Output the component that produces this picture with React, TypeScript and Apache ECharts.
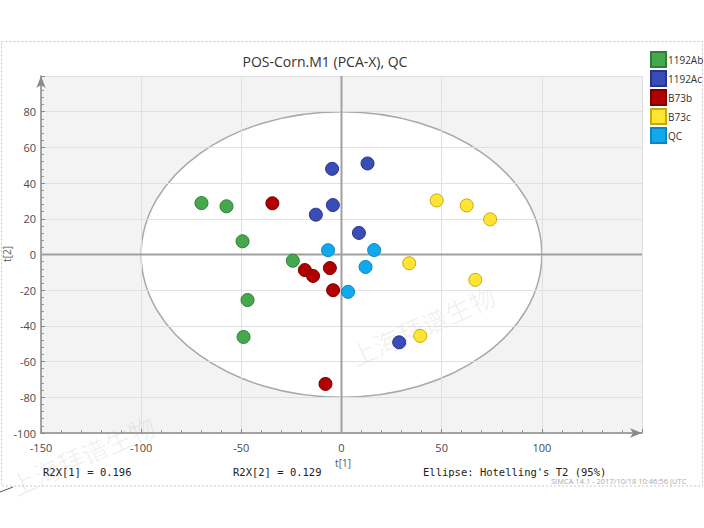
import React, { useEffect, useRef } from "react";
import * as echarts from "echarts";

// ---------- data ----------
const groups = ["1192Ab", "1192Ac", "B73b", "B73c", "QC"];
const groupColors = ["#45a84d", "#3a4cb8", "#b00000", "#ffe433", "#10a9ee"];
const groupBorders = ["#2f7d36", "#26348a", "#7a0000", "#c4aa10", "#0a86c0"];

const ab_t1 = [-69.9, -57.4, -49.4, -24.3, -46.9, -48.9];
const ab_t2 = [28.8, 27.0, 7.4, -3.5, -25.5, -46.2];
const ac_t1 = [-4.7, -4.3, -12.8, 13.0, 8.7, 28.8];
const ac_t2 = [48.0, 27.7, 22.3, 51.0, 12.1, -49.2];
const b73b_t1 = [-34.5, -18.3, -14.2, -5.8, -4.2, -8.0];
const b73b_t2 = [28.7, -8.7, -12.0, -7.6, -20.0, -72.5];
const b73c_t1 = [47.5, 62.5, 74.2, 33.8, 66.8, 39.3];
const b73c_t2 = [30.3, 27.5, 19.7, -4.9, -14.2, -45.6];
const qc_t1 = [-6.7, 16.3, 12.0, 3.3];
const qc_t2 = [2.4, 2.5, -7.0, -20.9];

const groupT1 = [ab_t1, ac_t1, b73b_t1, b73c_t1, qc_t1];
const groupT2 = [ab_t2, ac_t2, b73b_t2, b73c_t2, qc_t2];

// Hotelling's T2 (95%) ellipse semi-axes
const ellipseT1 = 100;
const ellipseT2 = 80;

const xMin = -150;
const xMax = 150;
const xStep = 50;
const yMin = -100;
const yMax = 100;
const yStep = 20;

const titleText = "POS-Corn.M1 (PCA-X), QC";
const r2x1Text = "R2X[1] = 0.196";
const r2x2Text = "R2X[2] = 0.129";
const ellipseText = "Ellipse: Hotelling's T2 (95%)";
const simcaText = "SIMCA 14.1 - 2017/10/18 10:46:56 (UTC";
const watermark = "上海拜谱生物";

export default function App() {
  const ref = useRef<HTMLDivElement>(null);

  useEffect(() => {
    if (!ref.current) return;
    const chart = echarts.init(ref.current, undefined, { renderer: "svg" });
    const font = "'Open Sans', 'Noto Sans', sans-serif";

    const scatterSeries = groups.map((g, i) => ({
      name: g,
      type: "scatter",
      z: 3,
      symbolSize: 13,
      data: groupT1[i].map((x, j) => [x, groupT2[i][j]]),
      itemStyle: {
        color: groupColors[i],
        borderColor: groupBorders[i],
        borderWidth: 1,
        opacity: 1,
      },
    }));

    const option: any = {
      animation: false,
      grid: { left: 41, right: 62, top: 76, bottom: 95, containLabel: false },
      xAxis: {
        type: "value",
        min: xMin,
        max: xMax,
        interval: xStep,
        axisLine: {
          onZero: false,
          symbol: ["none", "arrow"],
          symbolSize: [7, 12],
          lineStyle: { color: "#8a8a8a", width: 1.5 },
        },
        axisTick: { show: true, inside: true, length: 4, lineStyle: { color: "#888" } },
        minorTick: { show: true, splitNumber: 5, length: 3, lineStyle: { color: "#999" } },
        axisLabel: {
          showMaxLabel: false,
          margin: 9,
          fontSize: 11,
          color: "#4a4a4a",
          fontFamily: font,
        },
        splitLine: { show: true, lineStyle: { color: "#e0e0e0", width: 1 } },
      },
      yAxis: {
        type: "value",
        min: yMin,
        max: yMax,
        interval: yStep,
        axisLine: {
          onZero: false,
          symbol: ["none", "arrow"],
          symbolSize: [7, 12],
          lineStyle: { color: "#8a8a8a", width: 1.5 },
        },
        axisTick: { show: true, inside: true, length: 4, lineStyle: { color: "#888" } },
        minorTick: { show: true, splitNumber: 5, length: 3, lineStyle: { color: "#999" } },
        axisLabel: {
          showMaxLabel: false,
          margin: 5,
          fontSize: 11,
          color: "#4a4a4a",
          fontFamily: font,
        },
        splitLine: { show: true, lineStyle: { color: "#e0e0e0", width: 1 } },
      },
      legend: {
        data: groups,
        orient: "vertical",
        left: 650,
        top: 51,
        padding: 0,
        itemWidth: 15,
        itemHeight: 15,
        itemGap: 2,
        icon: "rect",
        textStyle: { fontSize: 10, color: "#333", fontFamily: font, padding: [0, 0, 0, -3] },
      },
      series: [
        {
          name: "plotBackground",
          type: "custom",
          z: -2,
          silent: true,
          data: [[0, 0]],
          renderItem: (params: any) => {
            const cs = params.coordSys;
            return {
              type: "rect",
              shape: { x: cs.x, y: cs.y, width: cs.width, height: cs.height },
              style: { fill: "#f3f3f3" },
            };
          },
        },
        {
          name: "ellipse",
          type: "custom",
          z: -1,
          silent: true,
          data: [[0, 0]],
          renderItem: (params: any, api: any) => {
            const c = api.coord([0, 0]);
            const s = api.size([ellipseT1, ellipseT2]);
            return {
              type: "ellipse",
              shape: { cx: c[0], cy: c[1], rx: s[0], ry: s[1] },
              style: { fill: "#ffffff", stroke: "#a8a8a8", lineWidth: 1.5 },
            };
          },
        },
        {
          name: "zeroLines",
          type: "custom",
          z: 1,
          silent: true,
          data: [[0, 0]],
          renderItem: (params: any, api: any) => {
            const a = api.coord([xMin, 0]);
            const b = api.coord([xMax, 0]);
            const c = api.coord([0, yMin]);
            const d = api.coord([0, yMax]);
            const st = { stroke: "#a0a0a0", lineWidth: 2 };
            return {
              type: "group",
              children: [
                { type: "line", shape: { x1: a[0], y1: a[1], x2: b[0], y2: b[1] }, style: st },
                { type: "line", shape: { x1: c[0], y1: c[1], x2: d[0], y2: d[1] }, style: st },
              ],
            };
          },
        },
        ...scatterSeries,
      ],
      graphic: [
        {
          type: "rect",
          z: -10,
          silent: true,
          shape: { x: 1.5, y: 41.5, width: 701, height: 444.5 },
          style: { fill: "none", stroke: "#c8c8c8", lineWidth: 1, lineDash: [2, 2] },
        },
        {
          type: "text",
          x: 325,
          y: 61,
          style: {
            text: titleText,
            align: "center",
            verticalAlign: "middle",
            font: `14px ${font}`,
            fill: "#333",
          },
        },
        {
          type: "text",
          x: 7,
          y: 254,
          rotation: Math.PI / 2,
          style: {
            text: "t[2]",
            align: "center",
            verticalAlign: "middle",
            font: `10px ${font}`,
            fill: "#555",
          },
        },
        {
          type: "text",
          x: 343,
          y: 463,
          style: {
            text: "t[1]",
            align: "center",
            verticalAlign: "middle",
            font: `10px ${font}`,
            fill: "#555",
          },
        },
        {
          type: "text",
          x: 43,
          y: 472,
          style: {
            text: r2x1Text,
            verticalAlign: "middle",
            font: `10.5px 'DejaVu Sans Mono', monospace`,
            fill: "#222",
          },
        },
        {
          type: "text",
          x: 233,
          y: 472,
          style: {
            text: r2x2Text,
            verticalAlign: "middle",
            font: `10.5px 'DejaVu Sans Mono', monospace`,
            fill: "#222",
          },
        },
        {
          type: "text",
          x: 423,
          y: 472,
          style: {
            text: ellipseText,
            verticalAlign: "middle",
            font: `10.5px 'DejaVu Sans Mono', monospace`,
            fill: "#222",
          },
        },
        {
          type: "text",
          x: 551,
          y: 481,
          style: {
            text: simcaText,
            verticalAlign: "middle",
            font: `7.5px ${font}`,
            fill: "#aaaaaa",
          },
        },
        {
          type: "text",
          x: 82,
          y: 455,
          rotation: 0.42,
          silent: true,
          style: {
            text: watermark,
            align: "center",
            verticalAlign: "middle",
            font: `26px 'Noto Sans CJK SC', sans-serif`,
            fill: "rgba(0,0,0,0.06)",
          },
        },
        {
          type: "text",
          x: 422,
          y: 325,
          rotation: 0.42,
          silent: true,
          style: {
            text: watermark,
            align: "center",
            verticalAlign: "middle",
            font: `26px 'Noto Sans CJK SC', sans-serif`,
            fill: "rgba(0,0,0,0.06)",
          },
        },
        {
          type: "line",
          silent: true,
          shape: { x1: 0, y1: 492, x2: 13, y2: 487 },
          style: { stroke: "#555", lineWidth: 1 },
        },
      ],
    };

    chart.setOption(option);
    return () => chart.dispose();
  }, []);

  return (
    <div
      ref={ref}
      style={{ position: "fixed", left: 0, top: 0, width: 704, height: 528, background: "#fff" }}
    />
  );
}
